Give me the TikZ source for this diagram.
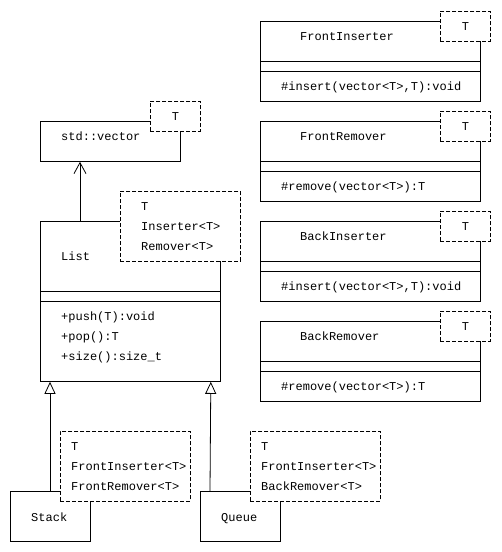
\documentclass[tikz,border=0pt]{standalone}
\usepackage{fontspec}
\setmonofont{Liberation Mono}
\usetikzlibrary{arrows.meta}

\tikzset{
  classbox/.style={draw, line width=0.8pt, anchor=north west, inner sep=0pt},
  tparam/.style={draw, line width=0.8pt, dash pattern=on 4pt off 2pt, fill=white, anchor=north west, inner sep=0pt,
    font=\ttfamily\fontsize{12}{14}\selectfont},
  lbl/.style={anchor=west, inner sep=0pt, text height=7pt, text depth=0pt, font=\ttfamily\fontsize{12}{14}\selectfont},
  dependency/.style={line width=0.8pt, -{Straight Barb[length=11pt,width=12pt,line width=0.8pt]}},
  inherits/.style={line width=0.8pt, -{Triangle[open,fill=white,length=12pt,width=11pt,line width=0.8pt]}}
}

\begin{document}
\begin{tikzpicture}[x=1pt,y=-1pt]
        \useasboundingbox (0,0) rectangle (502,552);

        % class boxes
        \node[classbox, minimum width=140pt, minimum height=40pt] (vector) at (40,121) {};
        \node[classbox, minimum width=180pt, minimum height=160pt] (list) at (40,221) {};
        \node[classbox, minimum width=80pt, minimum height=50pt] (stack) at (10,491) {};
        \node[classbox, minimum width=80pt, minimum height=50pt] (queue) at (200,491) {};
        \node[classbox, minimum width=220pt, minimum height=80pt] (frontins) at (260,21) {};
        \node[classbox, minimum width=220pt, minimum height=80pt] (frontrem) at (260,121) {};
        \node[classbox, minimum width=220pt, minimum height=80pt] (backins) at (260,221) {};
        \node[classbox, minimum width=220pt, minimum height=80pt] (backrem) at (260,321) {};

        % compartments
        \draw[line width=0.8pt] ([yshift=-70pt]list.north west) -- ([yshift=-70pt]list.north east);
        \draw[line width=0.8pt] ([yshift=-80pt]list.north west) -- ([yshift=-80pt]list.north east);
        \draw[line width=0.8pt] ([yshift=-40pt]frontins.north west) -- ([yshift=-40pt]frontins.north east);
        \draw[line width=0.8pt] ([yshift=-50pt]frontins.north west) -- ([yshift=-50pt]frontins.north east);
        \draw[line width=0.8pt] ([yshift=-40pt]frontrem.north west) -- ([yshift=-40pt]frontrem.north east);
        \draw[line width=0.8pt] ([yshift=-50pt]frontrem.north west) -- ([yshift=-50pt]frontrem.north east);
        \draw[line width=0.8pt] ([yshift=-40pt]backins.north west) -- ([yshift=-40pt]backins.north east);
        \draw[line width=0.8pt] ([yshift=-50pt]backins.north west) -- ([yshift=-50pt]backins.north east);
        \draw[line width=0.8pt] ([yshift=-40pt]backrem.north west) -- ([yshift=-40pt]backrem.north east);
        \draw[line width=0.8pt] ([yshift=-50pt]backrem.north west) -- ([yshift=-50pt]backrem.north east);

        % template parameters
        \node[tparam, minimum width=50pt, minimum height=30pt] (vectorT) at (150,101) {T};
        \node[tparam, minimum width=120pt, minimum height=70pt] (listT) at (120,191) {};
        \node[tparam, minimum width=130pt, minimum height=70pt] (stackT) at (60,431) {};
        \node[tparam, minimum width=130pt, minimum height=70pt] (queueT) at (250,431) {};
        \node[tparam, minimum width=50pt, minimum height=30pt] (frontinsT) at (440,11) {T};
        \node[tparam, minimum width=50pt, minimum height=30pt] (frontremT) at (440,111) {T};
        \node[tparam, minimum width=50pt, minimum height=30pt] (backinsT) at (440,211) {T};
        \node[tparam, minimum width=50pt, minimum height=30pt] (backremT) at (440,311) {T};

        % texts
        \node[lbl] (vectorname) at (61,137) {std::vector};
        \node[lbl] (listname) at (61,257) {List};
        \node[lbl] (listpush) at (61,317) {+push(T):void};
        \node[lbl] (listpop) at (61,337) {+pop():T};
        \node[lbl] (listsize) at (61,357) {+size():size\_t};
        \node[lbl] (listT1) at (141,207) {T};
        \node[lbl] (listT2) at (141,227) {Inserter<T>};
        \node[lbl] (listT3) at (141,247) {Remover<T>};
        \node[lbl] (stackname) at (31,518) {Stack};
        \node[lbl] (stackT1) at (71,447) {T};
        \node[lbl] (stackT2) at (71,467) {FrontInserter<T>};
        \node[lbl] (stackT3) at (71,487) {FrontRemover<T>};
        \node[lbl] (queuename) at (221,518) {Queue};
        \node[lbl] (queueT1) at (261,447) {T};
        \node[lbl] (queueT2) at (261,467) {FrontInserter<T>};
        \node[lbl] (queueT3) at (261,487) {BackRemover<T>};
        \node[lbl] (frontinsname) at (300,37) {FrontInserter};
        \node[lbl] (frontinsop) at (281,87) {\#insert(vector<T>,T):void};
        \node[lbl] (frontremname) at (300,137) {FrontRemover};
        \node[lbl] (frontremop) at (281,187) {\#remove(vector<T>):T};
        \node[lbl] (backinsname) at (300,237) {BackInserter};
        \node[lbl] (backinsop) at (281,287) {\#insert(vector<T>,T):void};
        \node[lbl] (backremname) at (300,337) {BackRemover};
        \node[lbl] (backremop) at (281,387) {\#remove(vector<T>):T};

        % relations
        \draw[dependency] ([xshift=40pt]list.north west) -- ([xshift=40pt]vector.south west);
        \draw[inherits] ([xshift=40pt]stack.north west) -- ([xshift=10pt]list.south west);
        \draw[inherits] ([xshift=10pt]queue.north west) -- ([xshift=-10pt]list.south east);
    \end{tikzpicture}
\end{document}
